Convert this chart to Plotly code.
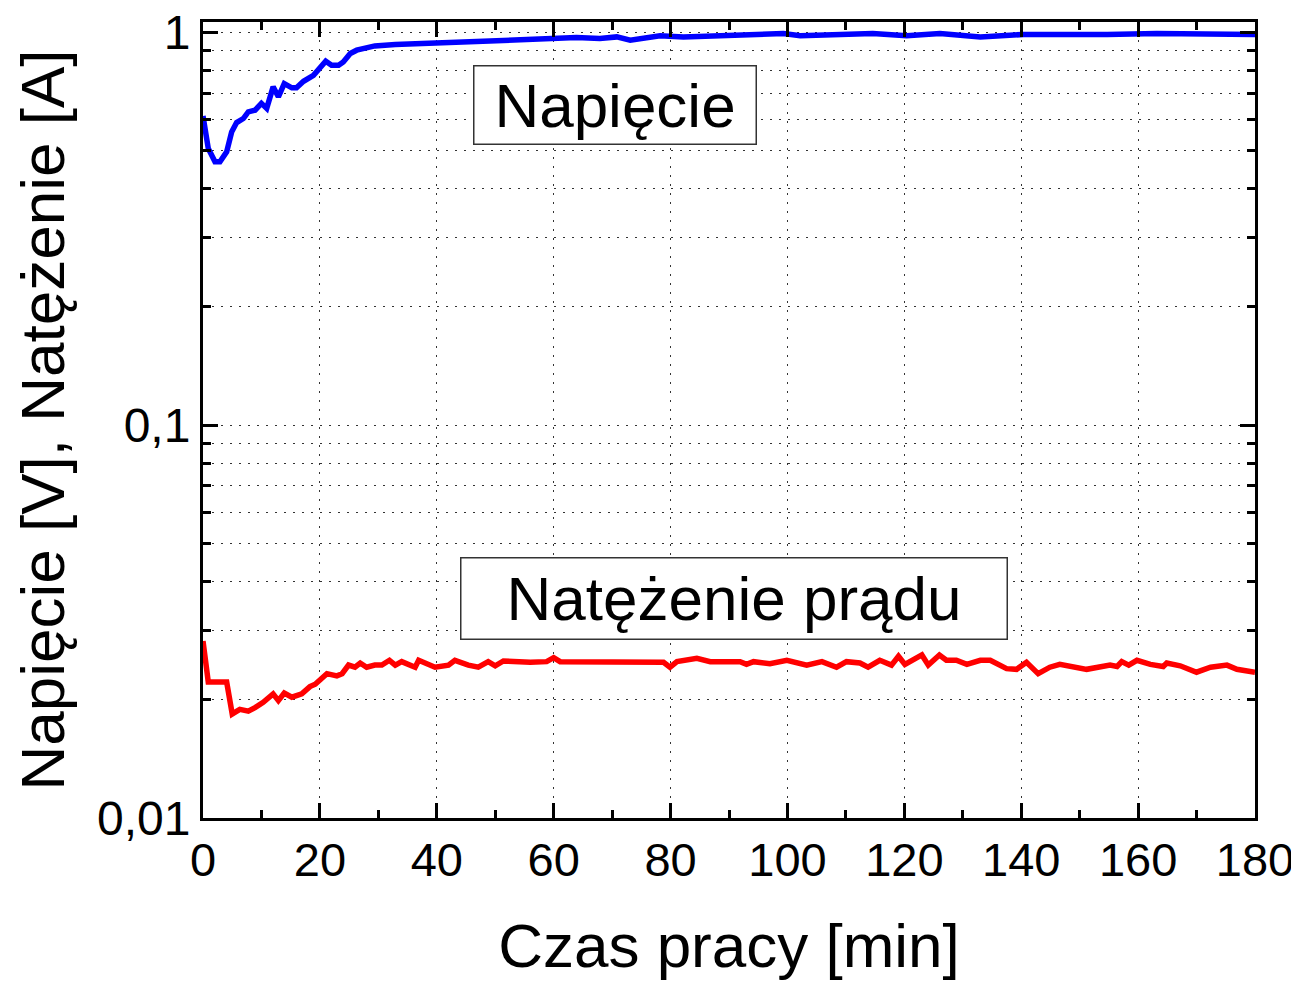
import plotly.graph_objects as go

# Voltage (Napięcie) series
t_v = [0, 0.9, 2.05, 2.9, 4.05, 4.9, 5.76, 6.9, 7.75, 8.9, 10.0, 10.9, 12.0, 12.9, 13.9,
       15.2, 16.0, 17.2, 18.9, 20.0, 21.0, 22.0, 23.2, 24.0, 25.2, 26.3, 27.7, 29.4, 32.9,
       38.5, 42.3, 50.8, 59.4, 63.9, 67.9, 70.8, 73.1, 78.2, 82.2, 90.7, 99.3, 102.2, 110,
       114.6, 120.4, 126.1, 133, 140.4, 154.7, 163.2, 180]
u_v = [0.612, 0.506, 0.468, 0.468, 0.496, 0.557, 0.589, 0.603, 0.627, 0.633, 0.659, 0.64,
       0.726, 0.685, 0.74, 0.722, 0.722, 0.75, 0.777, 0.808, 0.844, 0.824, 0.824, 0.84,
       0.883, 0.9, 0.909, 0.923, 0.93, 0.936, 0.945, 0.954, 0.964, 0.969, 0.964, 0.973,
       0.954, 0.979, 0.973, 0.983, 0.992, 0.979, 0.983, 0.992, 0.979, 0.992, 0.973, 0.987,
       0.987, 0.992, 0.987]

# Current (Natężenie prądu) series
t_i = [0, 0.9, 4.05, 5.0, 6.3, 7.75, 8.9, 10.3, 12.0, 12.9, 13.9, 15.2, 16.9, 18.3, 19.2,
       21.2, 22.9, 23.8, 24.9, 26.0, 26.9, 28.0, 29.4, 30.6, 31.9, 32.9, 34.0, 36.3, 36.9,
       39.7, 42.0, 43.1, 45.4, 47.1, 48.8, 50.0, 51.4, 56, 58.8, 60, 61.1, 64.5, 67.4, 70.8,
       73.1, 75.4, 78.8, 79.9, 81.1, 84.5, 86.8, 91.9, 93.0, 94.2, 97, 99.9, 103.3, 105.9,
       108.4, 110.1, 112.4, 113.8, 115.8, 117.8, 119, 120.1, 123, 124.1, 126, 127.2, 128.9,
       130.7, 133, 134.7, 137.5, 139.2, 140.9, 142.9, 144.9, 146.6, 151.2, 155.2, 156.4,
       157.2, 158.4, 159.8, 162.1, 164.3, 164.9, 167.2, 170.0, 172.4, 175.2, 176.9, 180]
i_v = [0.0282, 0.0222, 0.0222, 0.0184, 0.0189, 0.0187, 0.0191, 0.0197, 0.0207, 0.0199,
       0.0208, 0.0203, 0.0207, 0.0216, 0.0219, 0.0233, 0.023, 0.0233, 0.0245, 0.0242,
       0.0248, 0.0242, 0.0245, 0.0245, 0.0252, 0.0245, 0.025, 0.0242, 0.0252, 0.0242,
       0.0245, 0.0252, 0.0245, 0.0242, 0.025, 0.0244, 0.0251, 0.0249, 0.025, 0.0256,
       0.025, 0.025, 0.0248, 0.025, 0.0248, 0.025, 0.0249, 0.0242, 0.025, 0.0255, 0.025,
       0.025, 0.0246, 0.025, 0.0247, 0.0252, 0.0245, 0.025, 0.0242, 0.025, 0.0248, 0.0242,
       0.0252, 0.0245, 0.0258, 0.0246, 0.026, 0.0245, 0.026, 0.0252, 0.0252, 0.0246,
       0.0252, 0.0252, 0.024, 0.0239, 0.0249, 0.0233, 0.0242, 0.0246, 0.0239, 0.0245,
       0.0243, 0.025, 0.0245, 0.0252, 0.0246, 0.0243, 0.0248, 0.0244, 0.0235, 0.0242,
       0.0245, 0.0239, 0.0235]

x_ticks = [0, 20, 40, 60, 80, 100, 120, 140, 160, 180]
x_minor = [10, 30, 50, 70, 90, 110, 130, 150, 170]
y_ticks = [0.01, 0.1, 1]
y_ticktext = ["0,01", "0,1", "1"]
y_minor = [m * d for d in (0.01, 0.1) for m in range(2, 10)]

FONT = "Liberation Sans, Arial, sans-serif"

fig = go.Figure()
fig.add_trace(go.Scatter(x=t_v, y=u_v, mode="lines", line=dict(color="#0000ff", width=5.5),
                         showlegend=False))
fig.add_trace(go.Scatter(x=t_i, y=i_v, mode="lines", line=dict(color="#ff0000", width=5.5),
                         showlegend=False))

grid = dict(gridcolor="#333333", gridwidth=1.3, griddash="2px,7px")

fig.update_layout(
    width=1291, height=973,
    margin=dict(l=195, r=44, t=14, b=163, autoexpand=False),
    paper_bgcolor="white", plot_bgcolor="white",
    font=dict(family=FONT, color="black"),
    xaxis=dict(
        range=[0, 180], tickmode="array", tickvals=x_ticks, automargin=False,
        ticks="inside", ticklen=15, tickwidth=3, tickcolor="black",
        showline=True, linewidth=3, linecolor="black", mirror="ticks",
        showgrid=True, **grid, zeroline=False, ticklabeloverflow="allow",
        tickfont=dict(size=47, family=FONT), ticklabelstandoff=-1,
        minor=dict(tickmode="array", tickvals=x_minor, ticks="inside", ticklen=8,
                   tickwidth=3, tickcolor="black", showgrid=False),
        title=dict(text="Czas pracy [min]", font=dict(size=62, family=FONT), standoff=39),
    ),
    yaxis=dict(
        type="log", range=[-2, 0.026], tickmode="array", tickvals=y_ticks,
        ticktext=y_ticktext, automargin=False, ticklabeloverflow="allow",
        ticks="inside", ticklen=15, tickwidth=3, tickcolor="black",
        showline=True, linewidth=3, linecolor="black", mirror="ticks",
        showgrid=True, **grid, zeroline=False,
        tickfont=dict(size=48, family=FONT), ticklabelstandoff=0,
        minor=dict(tickmode="array", tickvals=y_minor, ticks="inside", ticklen=8,
                   tickwidth=3, tickcolor="black", showgrid=True,
                   gridcolor="#333333", gridwidth=1.3, griddash="2px,7px"),
        title=dict(text="Napięcie [V], Natężenie [A]", font=dict(size=62, family=FONT),
                   standoff=13),
    ),
    annotations=[
        dict(text="Napięcie", xref="paper", yref="paper", x=0.3916, y=0.8957,
             xanchor="center", yanchor="middle", showarrow=False,
             font=dict(size=62, family=FONT, color="black"),
             bgcolor="white", bordercolor="#333333", borderwidth=1.5, borderpad=0,
             width=281, height=77),
        dict(text="Natężenie prądu", xref="paper", yref="paper", x=0.5048, y=0.2758,
             xanchor="center", yanchor="middle", showarrow=False,
             font=dict(size=62, family=FONT, color="black"),
             bgcolor="white", bordercolor="#333333", borderwidth=1.5, borderpad=0,
             width=545, height=80),
    ],
)

fig.write_html("out.html")
